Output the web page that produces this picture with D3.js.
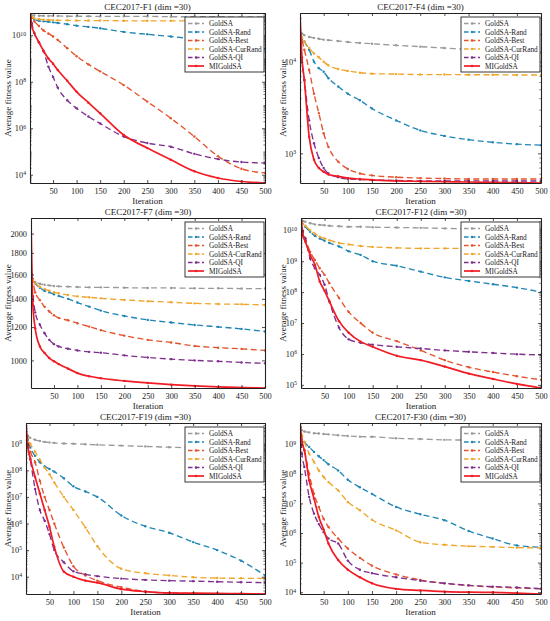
<!DOCTYPE html>
<html>
<head>
<meta charset="utf-8">
<script src="https://cdn.jsdelivr.net/npm/d3@7"></script>
<style>
  body { margin: 0; background: #fff; }
  svg { display: block; }
  text { font-family: "Liberation Serif", "Times New Roman", serif; fill: #1a1a1a; }
</style>
</head>
<body>
<div id="chart"></div>
<script>
const iters = [1, 5, 10, 20, 30, 40, 50, 60, 80, 100, 125, 150, 200, 250, 300, 350, 400, 450, 500];
const seriesNames = ['GoldSA', 'GoldSA-Rand', 'GoldSA-Best', 'GoldSA-CurRand', 'GoldSA-QI', 'MIGoldSA'];
const xTicks = [50, 100, 150, 200, 250, 300, 350, 400, 450, 500];

// CEC2017-F1
const f1GoldSA  = [9.1e10, 7.2e10, 7.1e10, 6.9e10, 6.9e10, 6.8e10, 6.8e10, 6.8e10, 6.6e10, 6.6e10, 6.6e10, 6.5e10, 6.5e10, 6.5e10, 6.3e10, 6.3e10, 6.3e10, 6.2e10, 6.2e10];
const f1Rand    = [9.1e10, 5.6e10, 4.8e10, 4.2e10, 4.0e10, 3.8e10, 3.6e10, 3.4e10, 3.0e10, 2.6e10, 2.3e10, 2.0e10, 1.4e10, 1.1e10, 8.9e9, 6.9e9, 5.0e9, 3.6e9, 2.5e9];
const f1Best    = [9.1e10, 5.6e10, 4.0e10, 2.5e10, 1.6e10, 1.2e10, 8.9e9, 6.3e9, 2.8e9, 1.26e9, 5.6e8, 2.8e8, 7.2e7, 1.4e7, 2.7e6, 4.4e5, 6.3e4, 1.8e4, 1.2e4];
const f1CurRand = [9.1e10, 6.3e10, 5.4e10, 4.9e10, 4.7e10, 4.6e10, 4.5e10, 4.4e10, 4.4e10, 4.3e10, 4.3e10, 4.3e10, 4.2e10, 4.2e10, 4.2e10, 4.2e10, 4.1e10, 4.1e10, 4.1e10];
const f1QI      = [9.1e10, 3.2e10, 1.26e10, 5.0e9, 2.0e9, 4.5e8, 1.6e8, 5.6e7, 1.6e7, 7.2e6, 3.2e6, 1.6e6, 4.4e5, 2.3e5, 1.6e5, 7.9e4, 4.7e4, 3.5e4, 3.2e4];
const f1MI      = [9.1e10, 2.5e10, 1.26e10, 5.0e9, 2.1e9, 1.0e9, 6.0e8, 3.2e8, 1.1e8, 3.7e7, 1.26e7, 4.4e6, 5.1e5, 1.4e5, 4.4e4, 1.4e4, 7.2e3, 5.1e3, 4.4e3];

// CEC2017-F4
const f4GoldSA  = [2.14e4, 2.04e4, 1.95e4, 1.86e4, 1.82e4, 1.78e4, 1.74e4, 1.72e4, 1.68e4, 1.64e4, 1.60e4, 1.57e4, 1.51e4, 1.46e4, 1.41e4, 1.36e4, 1.32e4, 1.29e4, 1.26e4];
const f4Rand    = [2.04e4, 1.86e4, 1.66e4, 1.35e4, 1.0e4, 8510, 7760, 6610, 5370, 4470, 3800, 3090, 2290, 1780, 1550, 1410, 1320, 1260, 1230];
const f4Best    = [2.14e4, 1.74e4, 1.35e4, 8130, 4470, 2750, 1660, 1170, 813, 676, 603, 575, 550, 537, 531, 525, 525, 525, 525];
const f4CurRand = [2.04e4, 1.86e4, 1.66e4, 1.41e4, 1.23e4, 1.12e4, 1.0e4, 9120, 8320, 7940, 7590, 7410, 7330, 7240, 7240, 7210, 7210, 7160, 7160];
const f4QI      = [2.24e4, 1.05e4, 6310, 2290, 1290, 891, 692, 603, 550, 525, 519, 513, 507, 501, 501, 501, 500, 500, 500];
const f4MI      = [3.4e4, 1.12e4, 6310, 1510, 851, 692, 631, 589, 562, 537, 525, 513, 501, 495, 490, 487, 483, 479, 475];

// CEC2017-F7
const f7GoldSA  = [1580, 1545, 1535, 1520, 1512, 1507, 1502, 1499, 1497, 1494, 1491, 1491, 1488, 1486, 1486, 1483, 1483, 1481, 1481];
const f7Rand    = [1700, 1560, 1524, 1488, 1462, 1451, 1435, 1422, 1400, 1372, 1342, 1313, 1275, 1248, 1230, 1214, 1201, 1188, 1171];
const f7Best    = [1580, 1538, 1450, 1390, 1340, 1306, 1280, 1262, 1245, 1225, 1203, 1180, 1145, 1119, 1103, 1082, 1072, 1065, 1056];
const f7CurRand = [1580, 1552, 1524, 1496, 1477, 1464, 1451, 1443, 1430, 1419, 1412, 1404, 1392, 1382, 1374, 1366, 1361, 1359, 1354];
const f7QI      = [1580, 1420, 1300, 1215, 1160, 1119, 1093, 1079, 1066, 1056, 1048, 1043, 1028, 1016, 1007, 1000, 995, 989, 984];
const f7MI      = [2178, 1354, 1192, 1079, 1041, 1013, 995, 980, 956, 933, 917, 907, 894, 884, 876, 870, 865, 862, 860];

// CEC2017-F12
const f12GoldSA  = [2.5e10, 2.0e10, 1.9e10, 1.7e10, 1.55e10, 1.5e10, 1.45e10, 1.4e10, 1.35e10, 1.3e10, 1.3e10, 1.26e10, 1.23e10, 1.2e10, 1.15e10, 1.12e10, 1.1e10, 1.1e10, 1.07e10];
const f12Rand    = [2.5e10, 1.6e10, 1.3e10, 8.9e9, 6.6e9, 5.4e9, 4.6e9, 3.9e9, 3.0e9, 2.1e9, 1.6e9, 1.0e9, 7.1e8, 4.6e8, 3.0e8, 2.3e8, 1.8e8, 1.4e8, 1.0e8];
const f12Best    = [2.5e10, 8.9e9, 5.4e9, 2.0e9, 1.1e9, 5.9e8, 3.6e8, 1.95e8, 6.5e7, 2.3e7, 1.0e7, 4.9e6, 2.6e6, 1.3e6, 6.3e5, 3.7e5, 2.6e5, 1.9e5, 1.45e5];
const f12CurRand = [2.5e10, 1.6e10, 1.4e10, 1.0e10, 7.8e9, 6.2e9, 5.4e9, 4.8e9, 3.9e9, 3.5e9, 3.1e9, 2.9e9, 2.7e9, 2.6e9, 2.6e9, 2.6e9, 2.6e9, 2.6e9, 2.6e9];
const f12QI      = [2.5e10, 8.9e9, 5.4e9, 1.23e9, 5.9e8, 3.6e8, 1.74e8, 5.0e7, 7.1e6, 3.0e6, 2.3e6, 2.0e6, 1.7e6, 1.5e6, 1.3e6, 1.17e6, 1.07e6, 9.8e5, 9.3e5];
const f12MI      = [2.5e10, 6.9e9, 4.3e9, 1.6e9, 7.6e8, 2.2e8, 1.1e8, 5.0e7, 1.15e7, 4.9e6, 2.5e6, 1.7e6, 8.7e5, 6.3e5, 3.9e5, 2.3e5, 1.55e5, 1.07e5, 7.9e4];

// CEC2017-F19
const f19GoldSA  = [2.5e9, 2.0e9, 1.66e9, 1.4e9, 1.26e9, 1.17e9, 1.12e9, 1.07e9, 1.02e9, 1.0e9, 9.5e8, 9.1e8, 8.5e8, 7.9e8, 7.4e8, 6.9e8, 6.5e8, 6.0e8, 5.6e8];
const f19Rand    = [2.5e9, 1.4e9, 7.1e8, 3.5e8, 2.0e8, 1.4e8, 1.12e8, 8.9e7, 5.0e7, 2.5e7, 1.6e7, 1.0e7, 2.0e6, 7.9e5, 4.5e5, 2.0e5, 1.0e5, 4.0e4, 1.12e4];
const f19Best    = [2.5e9, 1.0e9, 5.0e8, 2.0e8, 4.0e7, 1.0e7, 3.2e6, 1.0e6, 1.26e5, 2.5e4, 1.12e4, 7.1e3, 4.0e3, 2.8e3, 2.45e3, 2.35e3, 2.3e3, 2.3e3, 2.24e3];
const f19CurRand = [2.5e9, 1.6e9, 1.0e9, 5.0e8, 2.5e8, 1.26e8, 7.1e7, 3.5e7, 1.0e7, 3.2e6, 7.1e5, 1.4e5, 2.0e4, 1.35e4, 1.12e4, 9.5e3, 8.9e3, 8.7e3, 8.7e3];
const f19QI      = [2.5e9, 7.9e8, 2.5e8, 2.0e7, 3.2e6, 1.26e6, 4.0e5, 1.0e5, 3.5e4, 1.6e4, 1.23e4, 1.05e4, 8.5e3, 7.6e3, 7.1e3, 6.8e3, 6.5e3, 6.2e3, 6.0e3];
const f19MI      = [6.0e9, 7.6e8, 2.75e8, 5.6e7, 1.35e7, 3.2e6, 7.6e5, 1.35e5, 1.55e4, 1.0e4, 7.1e3, 6.0e3, 3.4e3, 2.75e3, 2.45e3, 2.4e3, 2.35e3, 2.3e3, 2.24e3];

// CEC2017-F30
const f30GoldSA  = [5.2e9, 2.95e9, 2.7e9, 2.5e9, 2.35e9, 2.3e9, 2.2e9, 2.15e9, 2.0e9, 1.9e9, 1.8e9, 1.78e9, 1.58e9, 1.5e9, 1.4e9, 1.38e9, 1.3e9, 1.26e9, 1.2e9];
const f30Rand    = [5.2e9, 1.8e9, 1.2e9, 8.1e8, 5.5e8, 3.9e8, 2.9e8, 2.1e8, 1.3e8, 6.3e7, 3.5e7, 2.1e7, 7.6e6, 4.3e6, 2.7e6, 1.17e6, 6.5e5, 3.8e5, 3.3e5];
const f30Best    = [5.2e9, 1.4e9, 6.3e8, 1.0e8, 2.1e7, 7.6e6, 3.0e6, 1.6e6, 6.5e5, 3.0e5, 1.45e5, 7.9e4, 4.0e4, 2.6e4, 2.0e4, 1.7e4, 1.5e4, 1.4e4, 1.3e4];
const f30CurRand = [5.2e9, 2.0e9, 1.2e9, 4.8e8, 2.5e8, 1.3e8, 7.8e7, 5.25e7, 2.75e7, 1.12e7, 5.9e6, 2.8e6, 1.23e6, 4.9e5, 4.0e5, 3.6e5, 3.4e5, 3.2e5, 3.16e5];
const f30QI      = [5.2e9, 4.8e8, 1.7e8, 1.66e7, 4.5e6, 2.0e6, 1.07e6, 6.5e5, 4.4e5, 1.17e5, 5.75e4, 4.4e4, 3.2e4, 2.45e4, 2.0e4, 1.7e4, 1.55e4, 1.45e4, 1.32e4];
const f30MI      = [5.2e9, 1.2e9, 6.3e8, 6.0e7, 1.45e7, 3.5e6, 1.3e6, 4.4e5, 1.23e5, 5.75e4, 3.2e4, 2.0e4, 1.3e4, 1.15e4, 1.05e4, 1.0e4, 9.8e3, 9.3e3, 8.7e3];

const f1Ticks  = [1e4, 1e6, 1e8, 1e10];
const f4Ticks  = [1e3, 1e4];
const f7Ticks  = [1000, 1200, 1400, 1600, 1800, 2000];
const f12Ticks = [1e5, 1e6, 1e7, 1e8, 1e9, 1e10];
const f19Ticks = [1e4, 1e5, 1e6, 1e7, 1e8, 1e9];
const f30Ticks = [1e4, 1e5, 1e6, 1e7, 1e8, 1e9];

const panels = [
  { title: 'CEC2017-F1 (dim =30)',  data: [f1GoldSA, f1Rand, f1Best, f1CurRand, f1QI, f1MI],       ticks: f1Ticks,  pow: true },
  { title: 'CEC2017-F4 (dim =30)',  data: [f4GoldSA, f4Rand, f4Best, f4CurRand, f4QI, f4MI],       ticks: f4Ticks,  pow: true },
  { title: 'CEC2017-F7 (dim =30)',  data: [f7GoldSA, f7Rand, f7Best, f7CurRand, f7QI, f7MI],       ticks: f7Ticks,  pow: false },
  { title: 'CEC2017-F12 (dim =30)', data: [f12GoldSA, f12Rand, f12Best, f12CurRand, f12QI, f12MI], ticks: f12Ticks, pow: true },
  { title: 'CEC2017-F19 (dim =30)', data: [f19GoldSA, f19Rand, f19Best, f19CurRand, f19QI, f19MI], ticks: f19Ticks, pow: true },
  { title: 'CEC2017-F30 (dim =30)', data: [f30GoldSA, f30Rand, f30Best, f30CurRand, f30QI, f30MI], ticks: f30Ticks, pow: true }
];

// layout: plot boxes [left, top, right, bottom]
const boxes = [
  [30, 13, 265, 183], [300, 13, 541, 183],
  [31, 218, 265, 388], [301, 218, 541, 388],
  [26, 423, 265, 594], [300, 423, 541, 594]
];
const colors = ['#9a9a9a', '#1f86b5', '#e4532d', '#f0a52c', '#7e2f8e', '#f21c24'];
const dashes = ['6,3.5', '6,3.5', '6,3.5', '6,3.5', '6,3.5', null];

const W = 550, H = 621;
const svg = d3.select('#chart').append('svg').attr('width', W).attr('height', H);

panels.forEach((p, pi) => {
  const [l, t, r, b] = boxes[pi];
  const col = pi % 2;
  const g = svg.append('g');

  const x = d3.scaleLinear().domain([1, 500]).range([l, r]);
  const all = p.data.flat();
  const y = d3.scaleLog().domain(d3.extent(all)).range([b, t]);

  const clipId = 'clip' + pi;
  g.append('clipPath').attr('id', clipId)
    .append('rect').attr('x', l).attr('y', t).attr('width', r - l).attr('height', b - t);

  // background
  g.append('rect').attr('x', l).attr('y', t).attr('width', r - l).attr('height', b - t).attr('fill', '#fff');

  // curves
  const line = d3.line().x(d => x(d[0])).y(d => y(d[1])).curve(d3.curveMonotoneX);
  const plot = g.append('g').attr('clip-path', `url(#${clipId})`);
  p.data.forEach((vals, si) => {
    const pts = iters.map((it, k) => [it, vals[k]]);
    plot.append('path').datum(pts)
      .attr('d', line)
      .attr('fill', 'none')
      .attr('stroke', colors[si])
      .attr('stroke-width', si === 5 ? 1.7 : 1.35)
      .attr('stroke-dasharray', dashes[si]);
    plot.selectAll(null).data(pts.slice(1)).enter().append('circle')
      .attr('cx', d => x(d[0])).attr('cy', d => y(d[1]))
      .attr('r', 1.2).attr('fill', colors[si]);
  });

  // minor ticks on log axes
  if (p.pow) {
    const [d0, d1] = y.domain();
    const minor = [];
    for (let k = Math.floor(Math.log10(d0)); k <= Math.ceil(Math.log10(d1)); k++) {
      for (let m = 1; m < 10; m++) {
        const v = m * Math.pow(10, k);
        if (v >= d0 && v <= d1 && !p.ticks.includes(v)) minor.push(v);
      }
    }
    [[d3.axisLeft, l], [d3.axisRight, r]].forEach(([ax, px]) => {
      g.append('g').attr('transform', `translate(${px},0)`)
        .call(ax(y).tickValues(minor).tickSize(-1.6).tickSizeOuter(0).tickFormat(''))
        .call(s => s.select('.domain').remove())
        .selectAll('line').attr('stroke', '#222').attr('stroke-width', 0.6);
    });
  }

  // axes
  const styleAxis = s => {
    s.select('.domain').attr('stroke', '#222').attr('stroke-width', 1.1);
    s.selectAll('.tick line').attr('stroke', '#222').attr('stroke-width', 0.8);
    s.selectAll('text').attr('font-size', 8.3).attr('fill', '#1a1a1a')
      .attr('font-family', '"Liberation Serif", "Times New Roman", serif');
  };
  g.append('g').attr('transform', `translate(0,${b})`)
    .call(d3.axisBottom(x).tickValues(xTicks).tickSize(-3).tickSizeOuter(0).tickPadding(5))
    .call(styleAxis);
  g.append('g').attr('transform', `translate(0,${t})`)
    .call(d3.axisTop(x).tickValues(xTicks).tickSize(-3).tickSizeOuter(0).tickFormat(''))
    .call(styleAxis);
  g.append('g').attr('transform', `translate(${r},0)`)
    .call(d3.axisRight(y).tickValues(p.ticks).tickSize(-3).tickSizeOuter(0).tickFormat(''))
    .call(styleAxis);
  const yAxis = g.append('g').attr('transform', `translate(${l},0)`)
    .call(d3.axisLeft(y).tickValues(p.ticks).tickSize(-3).tickSizeOuter(0).tickPadding(4)
      .tickFormat(d => p.pow ? '10' : d3.format('d')(d)))
    .call(styleAxis);
  if (p.pow) {
    yAxis.selectAll('.tick text').each(function (d) {
      d3.select(this).append('tspan')
        .attr('dy', '-0.5em').attr('font-size', 5.7)
        .text(Math.round(Math.log10(d)));
    });
  }

  // labels
  g.append('text').attr('x', (l + r) / 2).attr('y', t - 3.5)
    .attr('text-anchor', 'middle').attr('font-size', 9).text(p.title);
  g.append('text').attr('x', (l + r) / 2).attr('y', b + 21)
    .attr('text-anchor', 'middle').attr('font-size', 9).text('Iteration');
  const yl = col === 0 ? 8 : 283;
  g.append('text').attr('transform', `translate(${yl},${(t + b) / 2}) rotate(-90)`)
    .attr('text-anchor', 'middle').attr('dominant-baseline', 'central')
    .attr('font-size', 9).text('Average fitness value');

  // legend
  const lw = 79, lh = 55;
  const lx = r - lw - 1, ly = t + 4;
  const leg = g.append('g').attr('transform', `translate(${lx},${ly})`);
  leg.append('rect').attr('width', lw).attr('height', lh)
    .attr('fill', '#fff').attr('stroke', '#222').attr('stroke-width', 0.9);
  seriesNames.forEach((name, si) => {
    const ry = 6.5 + si * 8.5;
    leg.append('line').attr('x1', 3).attr('x2', 19).attr('y1', ry).attr('y2', ry)
      .attr('stroke', colors[si]).attr('stroke-width', si === 5 ? 1.7 : 1.35)
      .attr('stroke-dasharray', si === 5 ? null : '4.5,2.5');
    leg.append('circle').attr('cx', 11).attr('cy', ry).attr('r', 1.2).attr('fill', colors[si]);
    leg.append('text').attr('x', 24).attr('y', ry).attr('dominant-baseline', 'central')
      .attr('font-size', 7.3).text(name);
  });
});
</script>
</body>
</html>
